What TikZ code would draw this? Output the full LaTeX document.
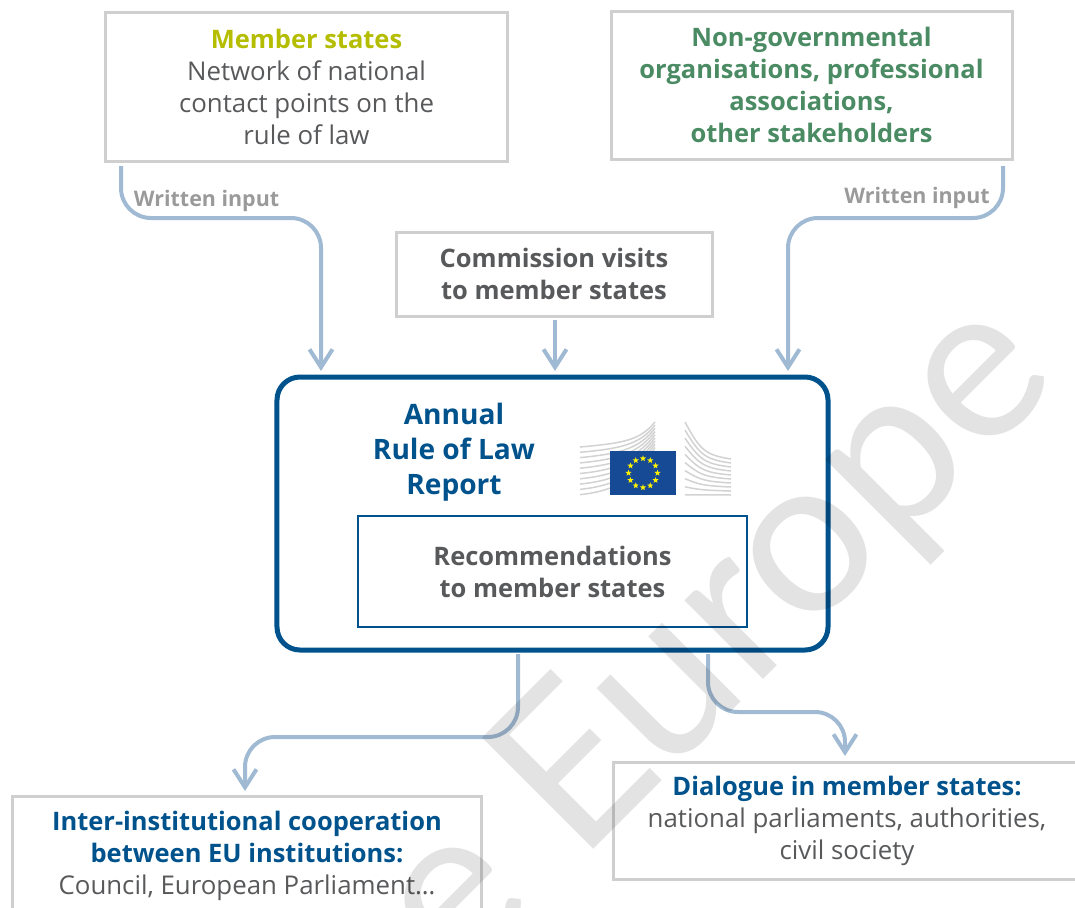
\documentclass[tikz,border=0pt]{standalone}
\usepackage{fontspec}
\setmainfont{Open Sans}
\newfontfamily\markfont{Lato}
\usetikzlibrary{arrows.meta,shapes.geometric,calc}
\definecolor{boxgrey}{HTML}{CFCFCF}
\definecolor{flowblue}{HTML}{A0BAD3}
\definecolor{eublue}{HTML}{00528C}
\definecolor{textgrey}{HTML}{58595B}
\definecolor{inputgrey}{HTML}{9A9A9A}
\definecolor{memberlime}{HTML}{B4BD00}
\definecolor{ngogreen}{HTML}{4A8B63}
\definecolor{flagblue}{HTML}{174A94}
\definecolor{wingrey}{HTML}{D2D2D2}
\newcommand\headfont{\fontsize{14.5}{18.2}\selectfont\bfseries}
\begin{document}
\begin{tikzpicture}[x=.2mm,y=-.2mm,
  textbox/.style={draw=boxgrey,line width=.6mm,align=center,inner sep=0pt,text=textgrey,
    font=\fontsize{14.7}{18.2}\selectfont},
  flow/.style={draw=flowblue,line width=.8mm,rounded corners=6mm},
  flowtip/.style={flow,-{Straight Barb[length=3.6mm,width=4.6mm,line width=.8mm]}},
  inputlabel/.style={inner sep=0pt,text=inputgrey,font=\fontsize{12.2}{14}\selectfont\bfseries}]
\useasboundingbox (0,0) rectangle (1075,907);
\clip (0,0) rectangle (1075,907);
% boxes
\node[textbox,minimum width=80.2mm,minimum height=29.8mm] (members) at (306.5,86.5)
  {{\headfont\color{memberlime}Member states}\\Network of national\\contact points on the\\rule of law};
\node[textbox,minimum width=80.2mm,minimum height=29.6mm,text=ngogreen,font=\headfont] (ngos) at (811.5,85)
  {Non-governmental\\organisations, professional\\associations,\\other stakeholders};
\node[textbox,minimum width=63.2mm,minimum height=16.8mm,font=\headfont] (visits) at (554,274)
  {Commission visits\\to member states};
\node[draw=eublue,line width=1mm,rounded corners=4.6mm,minimum width=110.2mm,minimum height=54.6mm] (report) at (552.5,513.5) {};
\node[draw=eublue,line width=.45mm,minimum width=77.8mm,minimum height=22.2mm,align=center,inner sep=0pt,text=textgrey,
  font=\headfont] (recs) at (552.5,571.5)
  {Recommendations\\to member states};
\node[align=center,inner sep=0pt,text=eublue,font=\fontsize{16}{19.9}\selectfont\bfseries] (title) at (454,452)
  {Annual\\Rule of Law\\Report};
\node[textbox,minimum width=93.6mm,minimum height=23.4mm] (dialogue) at (847,820.5)
  {{\headfont\color{eublue}Dialogue in member states:}\\national parliaments, authorities,\\civil society};
\node[textbox,minimum width=93.6mm,minimum height=23.8mm] (council) at (247,855.5)
  {{\headfont\color{eublue}Inter-institutional cooperation}\\{\headfont\color{eublue}between EU institutions:}\\Council, European Parliament\dots};
% building and flag
\foreach \i in {0,...,9} {
  \draw[wingrey,line width=.3mm] (580,{447+\i*5.3}) .. controls (625,{443+\i*5.2}) and (640,{440+\i*3.4}) .. (655,{422+\i*3.2});
  \draw[wingrey,line width=.3mm] (685,{422+\i*8.1}) .. controls (700,{450+\i*5}) and (705,{455+\i*4.4}) .. (731,{459+\i*4});
}
\node[fill=flagblue,minimum width=13.2mm,minimum height=8.8mm,inner sep=0pt] (flag) at (643,473) {};
\foreach \i in {1,...,12}
  \node[star,star points=5,star point ratio=2.4,fill=yellow,inner sep=0pt,minimum size=1.3mm] (flagstar\i) at ($(flag)+({\i*30}:2.9mm)$) {};
% connectors
\coordinate (membersout) at (121,166);
\coordinate (ngosout) at (1003,166);
\coordinate (visitsout) at (555,320);
\coordinate (reportin) at (321,371);
\coordinate (reportinb) at (555,371);
\coordinate (reportinc) at (788,371);
\coordinate (reportout) at (518,654);
\coordinate (reportoutb) at (708,654);
\coordinate (councilin) at (245,791);
\coordinate (dialoguein) at (845,756);
\draw[flowtip] (membersout) |- (321,218) -- (reportin);
\draw[flowtip] (ngosout) |- (788,218) -- (reportinc);
\draw[flowtip] (visitsout) -- (reportinb);
\draw[flowtip] (reportout) |- (245,737) -- (councilin);
\draw[flowtip] (reportoutb) |- (845,712) -- (dialoguein);
\node[inputlabel] (inputa) at (206.5,201) {Written input};
\node[inputlabel] (inputb) at (917,198) {Written input};
% watermark
\node[anchor=base west,rotate=45,inner sep=0pt,text=black,text opacity=.11,font=\fontsize{125}{125}\markfont] (mark) at (457,986) {e Europe};
\end{tikzpicture}
\end{document}
